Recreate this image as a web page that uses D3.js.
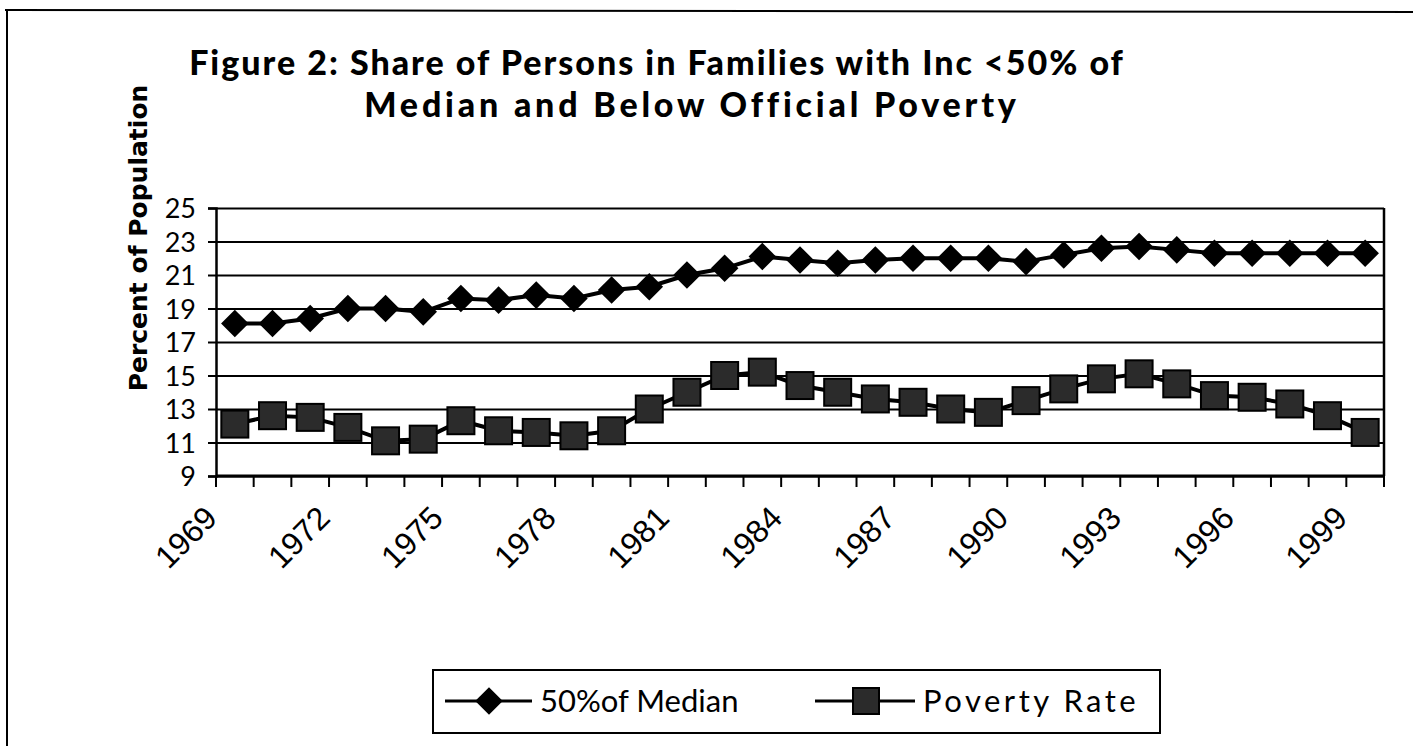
<!DOCTYPE html>
<html lang="en">
<head>
<meta charset="UTF-8">
<title>Figure 2: Share of Persons in Families with Inc &lt;50% of Median</title>
<script src="https://d3js.org/d3.v7.min.js"></script>
<style>
    body { margin: 0; background: #fff; }
    svg { display: block; }
    .ytick text { font-family: Lato, "Open Sans", sans-serif; font-size: 27px; fill: #000; }
    .xlab { font-family: "Liberation Sans", Arial, sans-serif; font-size: 32px; fill: #000; }
</style>
</head>
<body>
<svg width="1413" height="746"></svg>

<script>
    // years on the category axis
    const years = d3.range(1969, 2000);
    // 50% of median series (percent of population)
    const medianShare = [18.1, 18.1, 18.4, 19.0, 19.0, 18.8, 19.6, 19.5, 19.8, 19.6,
                         20.1, 20.3, 21.0, 21.4, 22.1, 21.9, 21.7, 21.9, 22.0, 22.0,
                         22.0, 21.8, 22.2, 22.6, 22.7, 22.5, 22.3, 22.3, 22.3, 22.3, 22.3];
    // official poverty rate series
    const povertyRate = [12.1, 12.6, 12.5, 11.9, 11.1, 11.2, 12.3, 11.7, 11.6, 11.4,
                         11.7, 13.0, 14.0, 15.0, 15.2, 14.4, 14.0, 13.6, 13.4, 13.0,
                         12.8, 13.5, 14.2, 14.8, 15.1, 14.5, 13.8, 13.7, 13.3, 12.6, 11.6];
    const yTicks = [9, 11, 13, 15, 17, 19, 21, 23, 25];
    const yearLabels = [1969, 1972, 1975, 1978, 1981, 1984, 1987, 1990, 1993, 1996, 1999];

    const svg = d3.select("svg");

    const pLeft = 216, pRight = 1384, pTop = 208, pBottom = 476;

    const x = d3.scaleBand().domain(years).range([pLeft, pRight]).padding(0);
    const y = d3.scaleLinear().domain([9, 25]).range([pBottom, pTop]);
    const cx = d => x(d) + x.bandwidth() / 2;

    // outer chart frame (top and left edges only show in the scan)
    svg.append("line").attr("x1", 5).attr("x2", 1413).attr("y1", 10).attr("y2", 12)
        .attr("stroke", "#000").attr("stroke-width", 2);
    svg.append("line").attr("x1", 7).attr("x2", 7).attr("y1", 10).attr("y2", 746)
        .attr("stroke", "#000").attr("stroke-width", 2);

    // title
    const title = svg.append("text")
        .attr("font-family", "Lato, 'Open Sans', sans-serif")
        .attr("font-weight", "900")
        .attr("font-size", 34)
        .attr("text-anchor", "middle");
    title.append("tspan").attr("x", 657).attr("y", 75).attr("letter-spacing", 2)
        .text("Figure 2: Share of Persons in Families with Inc <50% of");
    title.append("tspan").attr("x", 692).attr("y", 117).attr("letter-spacing", 3.8)
        .text("Median and Below Official Poverty");

    // y-axis title
    svg.append("text")
        .attr("transform", "translate(147,238) rotate(-90)")
        .attr("text-anchor", "middle")
        .attr("font-family", "'DejaVu Sans', sans-serif")
        .attr("font-weight", "bold")
        .attr("font-size", 25)
        .text("Percent of Population");

    // gridlines
    svg.append("g")
        .attr("transform", "translate(" + pLeft + ",0)")
        .call(d3.axisLeft(y).tickValues(yTicks).tickSize(-(pRight - pLeft)).tickFormat(""))
        .call(g => g.select(".domain").remove())
        .selectAll("line").attr("stroke", "#000").attr("stroke-width", 2);

    // plot border right side
    svg.append("line").attr("x1", pRight).attr("x2", pRight).attr("y1", pTop).attr("y2", pBottom)
        .attr("stroke", "#000").attr("stroke-width", 2.5);

    // y axis
    const yAxis = svg.append("g")
        .attr("class", "ytick")
        .attr("transform", "translate(" + pLeft + ",0)")
        .call(d3.axisLeft(y).tickValues(yTicks).tickSize(8).tickPadding(12));
    yAxis.select(".domain").attr("stroke", "#000").attr("stroke-width", 2.5);
    yAxis.selectAll("line").attr("stroke", "#000").attr("stroke-width", 2);
    yAxis.selectAll("text").attr("dy", "0.36em");

    // x axis: ticks at category boundaries
    svg.append("line").attr("x1", pLeft).attr("x2", pRight).attr("y1", pBottom).attr("y2", pBottom)
        .attr("stroke", "#000").attr("stroke-width", 3);
    const bounds = years.map(d => x(d)).concat([x(years[years.length - 1]) + x.bandwidth()]);
    svg.append("g").selectAll("line")
        .data(bounds)
        .join("line")
        .attr("x1", d => d).attr("x2", d => d)
        .attr("y1", pBottom).attr("y2", pBottom + 11)
        .attr("stroke", "#000").attr("stroke-width", 2);

    svg.append("g").selectAll("text")
        .data(yearLabels)
        .join("text")
        .attr("class", "xlab")
        .attr("text-anchor", "end")
        .attr("transform", d => "translate(" + (cx(d) - 16) + "," + (pBottom + 44) + ") rotate(-45)")
        .text(d => d);

    // series
    const line = d3.line().x((d, i) => cx(years[i])).y(d => y(d));

    svg.append("path").datum(medianShare)
        .attr("d", line).attr("fill", "none").attr("stroke", "#000").attr("stroke-width", 4);
    svg.append("path").datum(povertyRate)
        .attr("d", line).attr("fill", "none").attr("stroke", "#000").attr("stroke-width", 4);

    const diamond = d3.symbol().type(d3.symbolSquare).size(380);

    svg.append("g").selectAll("path")
        .data(medianShare)
        .join("path")
        .attr("transform", (d, i) => "translate(" + cx(years[i]) + "," + y(d) + ") rotate(45)")
        .attr("d", diamond)
        .attr("fill", "#000");

    svg.append("g").selectAll("rect")
        .data(povertyRate)
        .join("rect")
        .attr("x", (d, i) => cx(years[i]) - 13.5)
        .attr("y", d => y(d) - 13.5)
        .attr("width", 27).attr("height", 27)
        .attr("fill", "#2b2b2b")
        .attr("stroke", "#000").attr("stroke-width", 2);

    // legend
    const lg = svg.append("g");
    lg.append("rect").attr("x", 433).attr("y", 670).attr("width", 727).attr("height", 63)
        .attr("fill", "#fff").attr("stroke", "#000").attr("stroke-width", 2);
    lg.append("line").attr("x1", 445).attr("x2", 532).attr("y1", 701).attr("y2", 701)
        .attr("stroke", "#000").attr("stroke-width", 3);
    lg.append("path").attr("transform", "translate(489,701) rotate(45)")
        .attr("d", diamond).attr("fill", "#000");
    lg.append("text").attr("x", 540).attr("y", 712)
        .attr("font-family", "Lato, 'Open Sans', sans-serif").attr("font-size", 31)
        .text("50%of Median");
    lg.append("line").attr("x1", 815).attr("x2", 915).attr("y1", 701).attr("y2", 701)
        .attr("stroke", "#000").attr("stroke-width", 3);
    lg.append("rect").attr("x", 853).attr("y", 688).attr("width", 26).attr("height", 26)
        .attr("fill", "#2b2b2b").attr("stroke", "#000").attr("stroke-width", 2);
    lg.append("text").attr("x", 923).attr("y", 712)
        .attr("font-family", "Lato, 'Open Sans', sans-serif").attr("font-size", 31)
        .attr("letter-spacing", 3.5)
        .text("Poverty Rate");
</script>
</body>
</html>
